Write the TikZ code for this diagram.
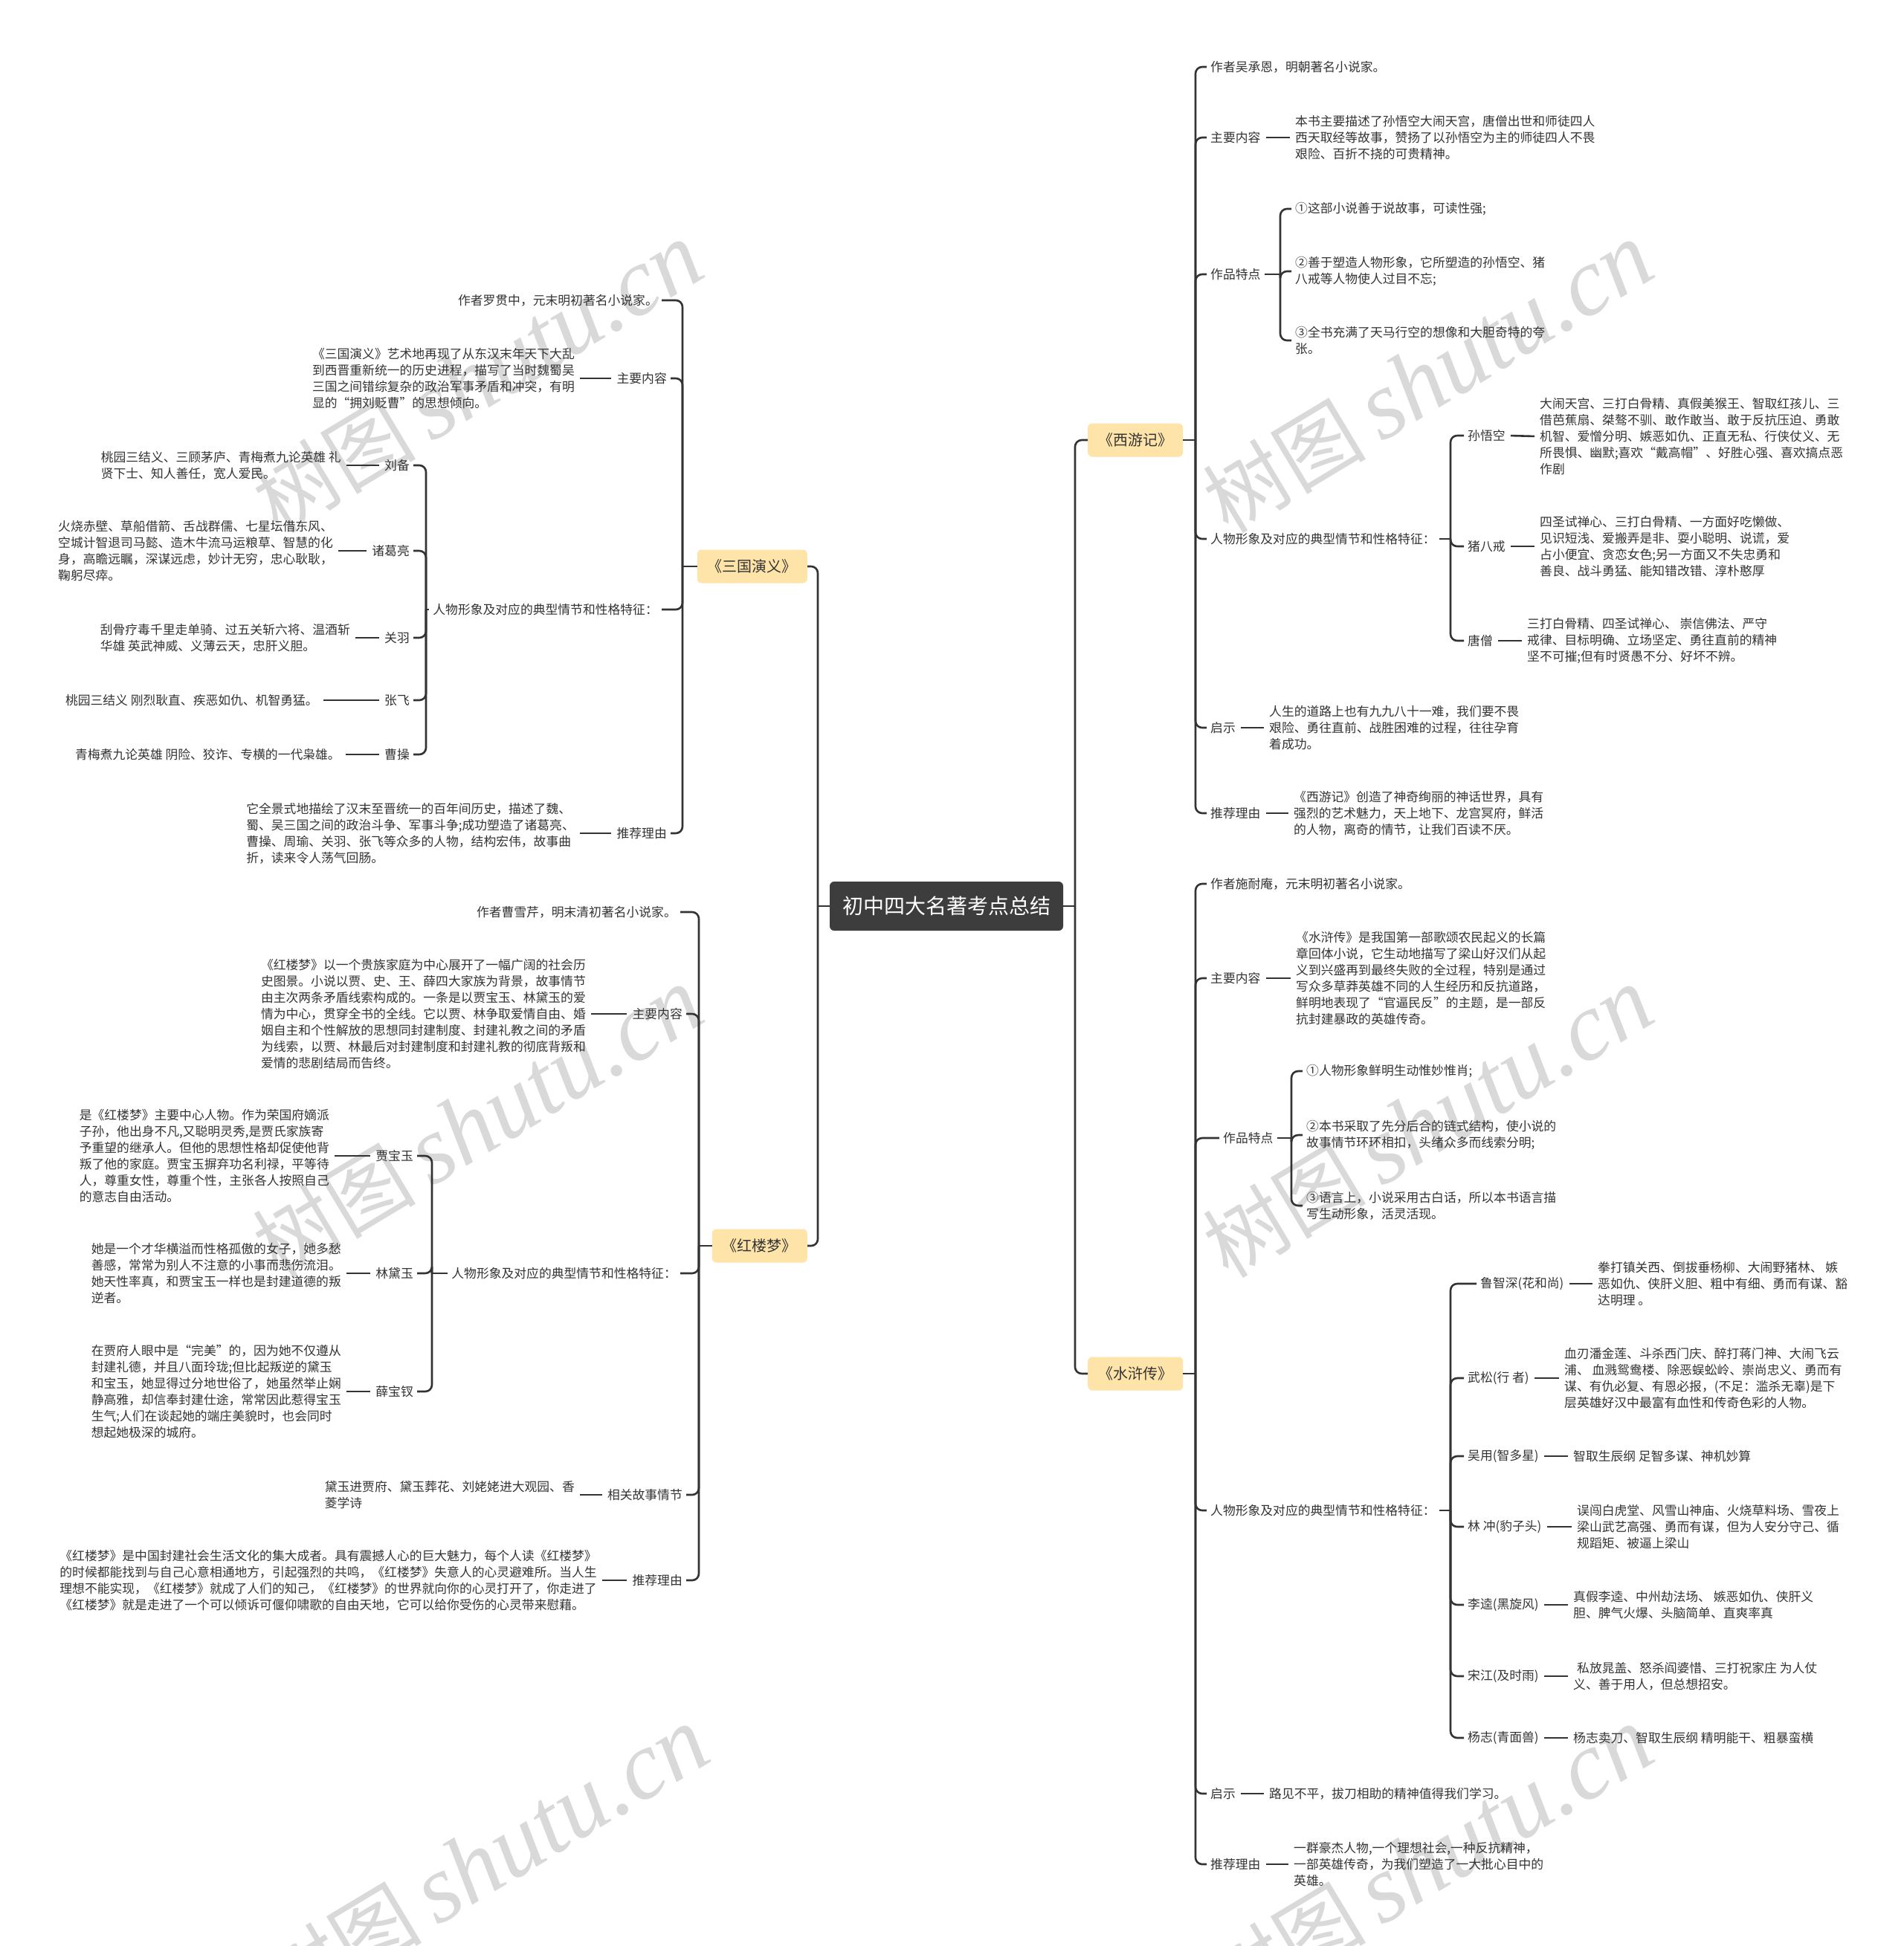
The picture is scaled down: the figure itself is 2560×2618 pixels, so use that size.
\documentclass[tikz,border=0pt]{standalone}
\usepackage{fontspec}
\setmainfont{Noto Sans CJK SC}
\newfontfamily\wmlatin{Liberation Serif}
\definecolor{linec}{HTML}{333333}
\definecolor{txtc}{HTML}{333333}
\definecolor{rootc}{HTML}{3D3D3D}
\definecolor{mainc}{HTML}{FFE4AA}
\definecolor{wmc}{HTML}{D9D9D9}
\tikzset{
  lf/.style={font=\fontsize{16.8}{22}\selectfont, text=txtc, inner sep=5pt, align=left},
  lfe/.style={lf, anchor=east},
  lfw/.style={lf, anchor=west},
  rootbox/.style={fill=rootc, text=white, rounded corners=6pt, font=\fontsize{28}{34}\selectfont, minimum width=314pt, minimum height=66pt},
  topicbox/.style={fill=mainc, text=txtc, rounded corners=6pt, font=\fontsize{20}{24}\selectfont, minimum height=45pt, inner xsep=14pt},
  conn/.style={draw=linec, line width=2.6pt, rounded corners=9pt},
  shortln/.style={draw=linec, line width=2.6pt, shorten <=2pt, shorten >=2pt},
  plainln/.style={draw=linec, line width=2.6pt},
  wm/.style={rotate=31, text=wmc, font=\fontsize{110}{120}\selectfont}
}
\begin{document}
\begin{tikzpicture}[x=1pt,y=-1pt]
\fill[white] (0,0) rectangle (2560,2618);
\useasboundingbox (0,0) rectangle (2560,2618);

% watermarks
\foreach \wx/\wy in {643/509, 1921/509, 643/1511, 1921/1511, 651/2505, 1921/2505}
  \node[wm] at (\wx,\wy) {树图\hspace{20pt}{\wmlatin\itshape\fontsize{130}{140}\selectfont shutu.cn}};

% root and topics
\node[rootbox] (root) at (1273,1219) {初中四大名著考点总结};
\node[topicbox, anchor=east] (sg) at (1086,762) {《三国演义》};
\node[topicbox, anchor=east] (hl) at (1086,1676) {《红楼梦》};
\node[topicbox, anchor=west] (xy) at (1463,592) {《西游记》};
\node[topicbox, anchor=west] (sh) at (1463,1848) {《水浒传》};

\draw[plainln] (root.west) -- (1100,1219);
\draw[conn] (1100,1219) |- (sg.east);
\draw[conn] (1100,1219) |- (hl.east);
\draw[plainln] (root.east) -- (1446,1219);
\draw[conn] (1446,1219) |- (xy.west);
\draw[conn] (1446,1219) |- (sh.west);

% ===== 三国演义 =====
\node[lfe] (sgA) at (890,404) {作者罗贯中，元末明初著名小说家。};
\node[lfe] (sgM) at (902,509) {主要内容};
\node[lfe] (sgMt) at (778,509) {《三国演义》艺术地再现了从东汉末年天下大乱\\到西晋重新统一的历史进程，描写了当时魏蜀吴\\三国之间错综复杂的政治军事矛盾和冲突，有明\\显的“拥刘贬曹”的思想倾向。};
\node[lfe] (sgC) at (890,820) {人物形象及对应的典型情节和性格特征：};
\node[lfe] (lb) at (556,626) {刘备};
\node[lfe] (lbt) at (464,626) {桃园三结义、三顾茅庐、青梅煮九论英雄 礼\\贤下士、知人善任，宽人爱民。};
\node[lfe] (zg) at (556,741) {诸葛亮};
\node[lfe] (zgt) at (453,741) {火烧赤壁、草船借箭、舌战群儒、七星坛借东风、\\空城计智退司马懿、造木牛流马运粮草、智慧的化\\身，高瞻远瞩，深谋远虑，妙计无穷，忠心耿耿，\\鞠躬尽瘁。};
\node[lfe] (gy) at (556,858) {关羽};
\node[lfe] (gyt) at (476,858) {刮骨疗毒千里走单骑、过五关斩六将、温酒斩\\华雄 英武神威、义薄云天，忠肝义胆。};
\node[lfe] (zf) at (556,942) {张飞};
\node[lfe] (zft) at (433,942) {桃园三结义 刚烈耿直、疾恶如仇、机智勇猛。};
\node[lfe] (cc) at (556,1015) {曹操};
\node[lfe] (cct) at (463,1015) {青梅煮九论英雄 阴险、狡诈、专横的一代枭雄。};
\node[lfe] (sgR) at (902,1121) {推荐理由};
\node[lfe] (sgRt) at (778,1121) {它全景式地描绘了汉末至晋统一的百年间历史，描述了魏、\\蜀、吴三国之间的政治斗争、军事斗争;成功塑造了诸葛亮、\\曹操、周瑜、关羽、张飞等众多的人物，结构宏伟，故事曲\\折，读来令人荡气回肠。};

\draw[plainln] (sg.west) -- (918,762);
\foreach \n in {sgA,sgM,sgC,sgR} \draw[conn] (918,762) |- (\n.east);
\draw[plainln] (sgC.west) -- (573,820);
\foreach \n in {lb,zg,gy,zf,cc} \draw[conn] (573,820) |- (\n.east);
\foreach \a/\b in {sgM/sgMt,sgR/sgRt,lb/lbt,zg/zgt,gy/gyt,zf/zft,cc/cct}
  \draw[shortln] (\a.west) -- (\b.east);

% ===== 红楼梦 =====
\node[lfe] (hlA) at (915,1227) {作者曹雪芹，明末清初著名小说家。};
\node[lfe] (hlM) at (923,1364) {主要内容};
\node[lfe] (hlMt) at (793,1364) {《红楼梦》以一个贵族家庭为中心展开了一幅广阔的社会历\\史图景。小说以贾、史、王、薛四大家族为背景，故事情节\\由主次两条矛盾线索构成的。一条是以贾宝玉、林黛玉的爱\\情为中心，贯穿全书的全线。它以贾、林争取爱情自由、婚\\姻自主和个性解放的思想同封建制度、封建礼教之间的矛盾\\为线索，以贾、林最后对封建制度和封建礼教的彻底背叛和\\爱情的悲剧结局而告终。};
\node[lfe] (hlC) at (915,1713) {人物形象及对应的典型情节和性格特征：};
\node[lfe] (by) at (561,1555) {贾宝玉};
\node[lfe] (byt) at (448,1555) {是《红楼梦》主要中心人物。作为荣国府嫡派\\子孙，他出身不凡,又聪明灵秀,是贾氏家族寄\\予重望的继承人。但他的思想性格却促使他背\\叛了他的家庭。贾宝玉摒弃功名利禄，平等待\\人，尊重女性，尊重个性，主张各人按照自己\\的意志自由活动。};
\node[lfe] (dy) at (561,1713) {林黛玉};
\node[lfe] (dyt) at (464,1713) {她是一个才华横溢而性格孤傲的女子，她多愁\\善感，常常为别人不注意的小事而悲伤流泪。\\她天性率真，和贾宝玉一样也是封建道德的叛\\逆者。};
\node[lfe] (bc) at (561,1872) {薛宝钗};
\node[lfe] (bct) at (464,1872) {在贾府人眼中是“完美”的，因为她不仅遵从\\封建礼德，并且八面玲珑;但比起叛逆的黛玉\\和宝玉，她显得过分地世俗了，她虽然举止娴\\静高雅，却信奉封建仕途，常常因此惹得宝玉\\生气;人们在谈起她的端庄美貌时，也会同时\\想起她极深的城府。};
\node[lfe] (hlS) at (923,2011) {相关故事情节};
\node[lfe] (hlSt) at (778,2011) {黛玉进贾府、黛玉葬花、刘姥姥进大观园、香\\菱学诗};
\node[lfe] (hlR) at (923,2126) {推荐理由};
\node[lfe] (hlRt) at (808,2126) {《红楼梦》是中国封建社会生活文化的集大成者。具有震撼人心的巨大魅力，每个人读《红楼梦》\\的时候都能找到与自己心意相通地方，引起强烈的共鸣，《红楼梦》失意人的心灵避难所。当人生\\理想不能实现，《红楼梦》就成了人们的知己，《红楼梦》的世界就向你的心灵打开了，你走进了\\《红楼梦》就是走进了一个可以倾诉可偃仰啸歌的自由天地，它可以给你受伤的心灵带来慰藉。};

\draw[plainln] (hl.west) -- (940,1676);
\foreach \n in {hlA,hlM,hlC,hlS,hlR} \draw[conn] (940,1676) |- (\n.east);
\draw[plainln] (hlC.west) -- (581,1713);
\foreach \n in {by,dy,bc} \draw[conn] (581,1713) |- (\n.east);
\foreach \a/\b in {hlM/hlMt,hlS/hlSt,hlR/hlRt,by/byt,dy/dyt,bc/bct}
  \draw[shortln] (\a.west) -- (\b.east);

% ===== 西游记 =====
\node[lfw] (xyA) at (1623,90) {作者吴承恩，明朝著名小说家。};
\node[lfw] (xyM) at (1623,185) {主要内容};
\node[lfw] (xyMt) at (1737,185) {本书主要描述了孙悟空大闹天宫，唐僧出世和师徒四人\\西天取经等故事，赞扬了以孙悟空为主的师徒四人不畏\\艰险、百折不挠的可贵精神。};
\node[lfw] (xyF) at (1623,369) {作品特点};
\node[lfw] (xyF1) at (1737,281) {①这部小说善于说故事，可读性强;};
\node[lfw] (xyF2) at (1737,365) {②善于塑造人物形象，它所塑造的孙悟空、猪\\八戒等人物使人过目不忘;};
\node[lfw] (xyF3) at (1737,458) {③全书充满了天马行空的想像和大胆奇特的夸\\张。};
\node[lfw] (xyC) at (1623,725) {人物形象及对应的典型情节和性格特征：};
\node[lfw] (swk) at (1969,586) {孙悟空};
\node[lfw] (swkt) at (2066,587) {大闹天宫、三打白骨精、真假美猴王、智取红孩儿、三\\借芭蕉扇、桀骜不驯、敢作敢当、敢于反抗压迫、勇敢\\机智、爱憎分明、嫉恶如仇、正直无私、行侠仗义、无\\所畏惧、幽默;喜欢“戴高帽”、好胜心强、喜欢搞点恶\\作剧};
\node[lfw] (zbj) at (1969,735) {猪八戒};
\node[lfw] (zbjt) at (2066,735) {四圣试禅心、三打白骨精、一方面好吃懒做、\\见识短浅、爱搬弄是非、耍小聪明、说谎，爱\\占小便宜、贪恋女色;另一方面又不失忠勇和\\善良、战斗勇猛、能知错改错、淳朴憨厚};
\node[lfw] (ts) at (1969,862) {唐僧};
\node[lfw] (tst) at (2049,862) {三打白骨精、四圣试禅心、 崇信佛法、严守\\戒律、目标明确、立场坚定、勇往直前的精神\\坚不可摧;但有时贤愚不分、好坏不辨。};
\node[lfw] (xyQ) at (1623,979) {启示};
\node[lfw] (xyQt) at (1702,979) {人生的道路上也有九九八十一难，我们要不畏\\艰险、勇往直前、战胜困难的过程，往往孕育\\着成功。};
\node[lfw] (xyR) at (1623,1094) {推荐理由};
\node[lfw] (xyRt) at (1735,1094) {《西游记》创造了神奇绚丽的神话世界，具有\\强烈的艺术魅力，天上地下、龙宫冥府，鲜活\\的人物，离奇的情节，让我们百读不厌。};

\draw[plainln] (xy.east) -- (1608,592);
\foreach \n in {xyA,xyM,xyF,xyC,xyQ,xyR} \draw[conn] (1608,592) |- (\n.west);
\draw[plainln] (xyF.east) -- (1722,369);
\foreach \n in {xyF1,xyF2,xyF3} \draw[conn] (1722,369) |- (\n.west);
\draw[plainln] (xyC.east) -- (1951,725);
\foreach \n in {swk,zbj,ts} \draw[conn] (1951,725) |- (\n.west);
\foreach \a/\b in {xyM/xyMt,xyQ/xyQt,xyR/xyRt,swk/swkt,zbj/zbjt,ts/tst}
  \draw[shortln] (\a.east) -- (\b.west);

% ===== 水浒传 =====
\node[lfw] (shA) at (1623,1189) {作者施耐庵，元末明初著名小说家。};
\node[lfw] (shM) at (1623,1316) {主要内容};
\node[lfw] (shMt) at (1738,1316) {《水浒传》是我国第一部歌颂农民起义的长篇\\章回体小说，它生动地描写了梁山好汉们从起\\义到兴盛再到最终失败的全过程，特别是通过\\写众多草莽英雄不同的人生经历和反抗道路，\\鲜明地表现了“官逼民反”的主题，是一部反\\抗封建暴政的英雄传奇。};
\node[lfw] (shF) at (1640,1531) {作品特点};
\node[lfw] (shF1) at (1752,1441) {①人物形象鲜明生动惟妙惟肖;};
\node[lfw] (shF2) at (1752,1527) {②本书采取了先分后合的链式结构，使小说的\\故事情节环环相扣，头绪众多而线索分明;};
\node[lfw] (shF3) at (1752,1622) {③语言上，小说采用古白话，所以本书语言描\\写生动形象，活灵活现。};
\node[lfw] (shC) at (1623,2032) {人物形象及对应的典型情节和性格特征：};
\node[lfw] (lzs) at (1986,1727) {鲁智深(花和尚)};
\node[lfw] (lzst) at (2144,1727) {拳打镇关西、倒拔垂杨柳、大闹野猪林、 嫉\\恶如仇、侠肝义胆、粗中有细、勇而有谋、豁\\达明理 。};
\node[lfw] (ws) at (1969,1854) {武松(行 者)};
\node[lfw] (wst) at (2099,1854) {血刃潘金莲、斗杀西门庆、醉打蒋门神、大闹飞云\\浦、 血溅鸳鸯楼、除恶蜈蚣岭、崇尚忠义、勇而有\\谋、有仇必复、有恩必报，(不足：滥杀无辜)是下\\层英雄好汉中最富有血性和传奇色彩的人物。};
\node[lfw] (wy) at (1969,1959) {吴用(智多星)};
\node[lfw] (wyt) at (2111,1959) {智取生辰纲 足智多谋、神机妙算};
\node[lfw] (lc) at (1969,2054) {林 冲(豹子头)};
\node[lfw] (lct) at (2116,2054) {误闯白虎堂、风雪山神庙、火烧草料场、雪夜上\\梁山武艺高强、勇而有谋，但为人安分守己、循\\规蹈矩、被逼上梁山};
\node[lfw] (lk) at (1969,2159) {李逵(黑旋风)};
\node[lfw] (lkt) at (2111,2159) {真假李逵、中州劫法场、 嫉恶如仇、侠肝义\\胆、脾气火爆、头脑简单、直爽率真};
\node[lfw] (sj) at (1969,2255) {宋江(及时雨)};
\node[lfw] (sjt) at (2111,2255) {\hspace{5pt}私放晁盖、怒杀阎婆惜、三打祝家庄 为人仗\\义、善于用人，但总想招安。};
\node[lfw] (yz) at (1969,2338) {杨志(青面兽)};
\node[lfw] (yzt) at (2111,2338) {杨志卖刀、智取生辰纲 精明能干、粗暴蛮横};
\node[lfw] (shQ) at (1623,2413) {启示};
\node[lfw] (shQt) at (1702,2413) {路见不平，拔刀相助的精神值得我们学习。};
\node[lfw] (shR) at (1623,2508) {推荐理由};
\node[lfw] (shRt) at (1735,2508) {一群豪杰人物,一个理想社会,一种反抗精神，\\一部英雄传奇，为我们塑造了一大批心目中的\\英雄。};

\draw[plainln] (sh.east) -- (1608,1848);
\foreach \n in {shA,shM,shF,shC,shQ,shR} \draw[conn] (1608,1848) |- (\n.west);
\draw[plainln] (shF.east) -- (1737,1531);
\foreach \n in {shF1,shF2,shF3} \draw[conn] (1737,1531) |- (\n.west);
\draw[plainln] (shC.east) -- (1951,2032);
\foreach \n in {lzs,ws,wy,lc,lk,sj,yz} \draw[conn] (1951,2032) |- (\n.west);
\foreach \a/\b in {shM/shMt,shQ/shQt,shR/shRt,lzs/lzst,ws/wst,wy/wyt,lc/lct,lk/lkt,sj/sjt,yz/yzt}
  \draw[shortln] (\a.east) -- (\b.west);
\end{tikzpicture}
\end{document}
